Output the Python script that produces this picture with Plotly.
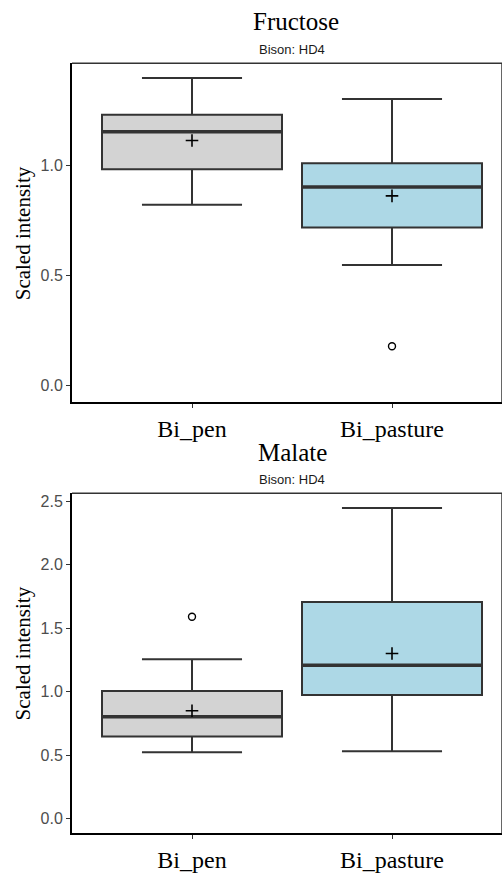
import plotly.graph_objects as go

groups = ["Bi_pen", "Bi_pasture"]
fill_colors = ["#d3d3d3", "#add8e6"]
metabolites = ["Fructose", "Malate"]
subtitle = "Bison: HD4"
y_title = "Scaled intensity"

fructose_q1 = [0.982, 0.717]
fructose_median = [1.152, 0.901]
fructose_q3 = [1.229, 1.009]
fructose_lower = [0.821, 0.547]
fructose_upper = [1.395, 1.300]
fructose_mean = [1.112, 0.861]
fructose_outliers = [[], [0.179]]
fructose_ticks = [0.0, 0.5, 1.0]

malate_q1 = [0.646, 0.973]
malate_median = [0.802, 1.207]
malate_q3 = [1.005, 1.706]
malate_lower = [0.522, 0.530]
malate_upper = [1.254, 2.446]
malate_mean = [0.849, 1.300]
malate_outliers = [[1.589], []]
malate_ticks = [0.0, 0.5, 1.0, 1.5, 2.0, 2.5]

panels = [
    dict(q1=fructose_q1, med=fructose_median, q3=fructose_q3, lo=fructose_lower,
         hi=fructose_upper, mean=fructose_mean, out=fructose_outliers,
         ticks=fructose_ticks, yrange=[-0.075, 1.462]),
    dict(q1=malate_q1, med=malate_median, q3=malate_q3, lo=malate_lower,
         hi=malate_upper, mean=malate_mean, out=malate_outliers,
         ticks=malate_ticks, yrange=[-0.117, 2.562]),
]

W, H = 502, 873
BOXW = 0.9
LINE = "#333333"
SERIF = "Liberation Serif, Times New Roman, serif"
SANS = "Liberation Sans, Arial, sans-serif"

# pixel layout of each panel: (top, bottom)
panel_px = [(64, 407), (499, 843)]
title_px = [(296, 22, 292, 50), (292, 458, 292, 485)]
ytitle_py = [236, 661]
left_px = 72


def py(v):
    return 1 - v / H


fig = go.Figure()

for p, (panel, name) in enumerate(zip(panels, metabolites)):
    sfx = "" if p == 0 else str(p + 1)
    xa, ya = "x" + sfx, "y" + sfx
    for i, g in enumerate(groups):
        fig.add_trace(go.Box(
            x=[i], q1=[panel["q1"][i]], median=[panel["med"][i]], q3=[panel["q3"][i]],
            lowerfence=[panel["lo"][i]], upperfence=[panel["hi"][i]],
            width=BOXW, whiskerwidth=0.556, fillcolor=fill_colors[i],
            line=dict(color=LINE, width=2), boxpoints=False,
            xaxis=xa, yaxis=ya, showlegend=False, hoverinfo="skip"))
        fig.add_trace(go.Scatter(
            x=[i - BOXW / 2 + 0.005, i + BOXW / 2 - 0.005], y=[panel["med"][i]] * 2,
            mode="lines", line=dict(color=LINE, width=3.5),
            xaxis=xa, yaxis=ya, showlegend=False, hoverinfo="skip"))
        fig.add_trace(go.Scatter(
            x=[i], y=[panel["mean"][i]], mode="markers",
            marker=dict(symbol="cross-thin", size=9, line=dict(color="black", width=1.6)),
            xaxis=xa, yaxis=ya, showlegend=False, hoverinfo="skip"))
        if panel["out"][i]:
            fig.add_trace(go.Scatter(
                x=[i] * len(panel["out"][i]), y=panel["out"][i], mode="markers",
                marker=dict(symbol="circle-open", size=7, color="black",
                            line=dict(color="black", width=1.4)),
                xaxis=xa, yaxis=ya, showlegend=False, hoverinfo="skip"))

    top, bot = panel_px[p]
    dom = [py(bot), py(top)]
    fig.layout["xaxis" + sfx] = dict(
        domain=[left_px / W, 1], range=[-0.6, 1.55], anchor=ya,
        tickvals=[0, 1], ticktext=groups, ticks="outside", ticklen=4,
        tickcolor=LINE, showline=True, linecolor="black", linewidth=2,
        showgrid=False, zeroline=False,
        tickfont=dict(family=SERIF, size=24, color="black"))
    fig.layout["yaxis" + sfx] = dict(
        domain=dom, range=panel["yrange"], anchor=xa,
        tickvals=panel["ticks"], ticktext=[f"{t:.1f}" for t in panel["ticks"]],
        ticks="outside", ticklen=4, tickcolor=LINE,
        showline=True, linecolor="black", linewidth=2,
        showgrid=False, zeroline=False,
        tickfont=dict(family=SANS, size=16, color="#4d4d4d"))
    # top and right border of panel
    fig.add_shape(type="line", xref="paper", yref="paper",
                  x0=left_px / W, x1=1, y0=dom[1], y1=dom[1],
                  line=dict(color="#333333", width=1.5))
    fig.add_shape(type="line", xref="paper", yref="paper",
                  x0=1, x1=1, y0=dom[0], y1=dom[1],
                  line=dict(color="#333333", width=1.5))

    tx, ty, sx, sy = title_px[p]
    fig.add_annotation(text=name, xref="paper", yref="paper", x=tx / W, y=py(ty),
                       xanchor="center", yanchor="middle", showarrow=False,
                       font=dict(family=SERIF, size=25, color="black"))
    fig.add_annotation(text=subtitle, xref="paper", yref="paper", x=sx / W, y=py(sy),
                       xanchor="center", yanchor="middle", showarrow=False,
                       font=dict(family=SANS, size=13, color="#1a1a1a"))
    fig.add_annotation(text=y_title, xref="paper", yref="paper", x=23 / W,
                       y=py(ytitle_py[p]), xanchor="center", yanchor="middle",
                       textangle=-90, showarrow=False,
                       font=dict(family=SERIF, size=21, color="black"))

fig.update_layout(width=W, height=H, margin=dict(l=0, r=0, t=0, b=0),
                  paper_bgcolor="white", plot_bgcolor="white")

post = (
    "document.documentElement.style.margin='0';"
    "document.documentElement.style.overflow='hidden';"
    "document.body.style.margin='0';"
    "document.body.style.overflow='hidden';"
)

fig.write_html("out.html", config={"displayModeBar": False, "staticPlot": True},
               post_script=post)
